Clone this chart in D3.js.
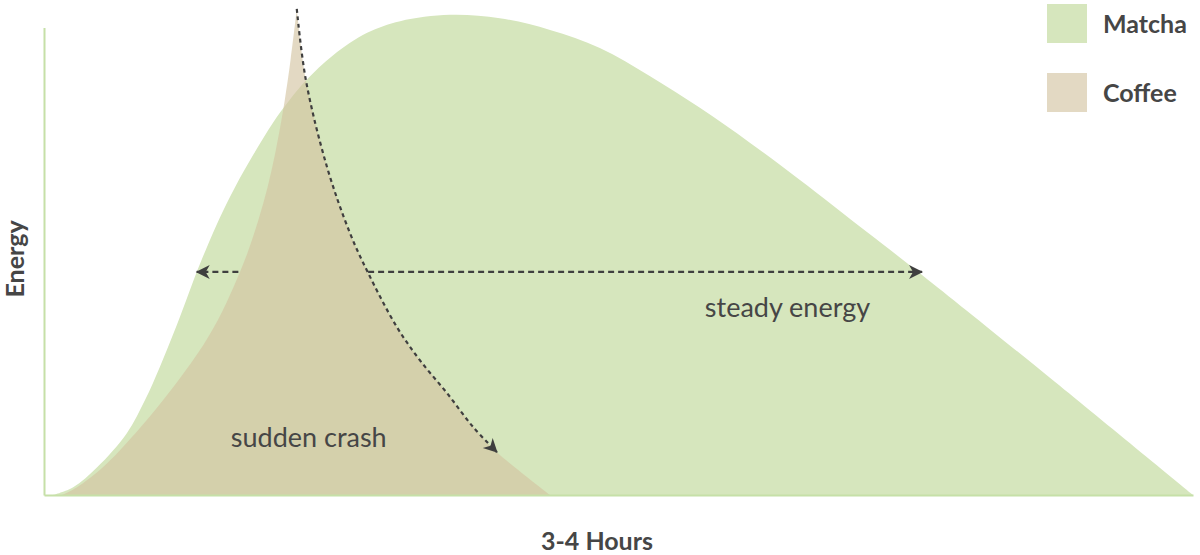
<!DOCTYPE html>
<html>
<head>
<meta charset="utf-8">
<script src="https://cdn.jsdelivr.net/npm/d3@7/dist/d3.min.js"></script>
<style>
  html, body { margin: 0; padding: 0; background: #fff; }
  svg { display: block; font-family: Lato, "Open Sans", sans-serif; }
</style>
</head>
<body>
<svg id="chart" width="1200" height="555"></svg>
<script>
// ---- Data (time in minutes, energy 0-100) ----
const matchaMinutes = [1.9, 6.1, 11.1, 17.3, 21.1, 24.2, 27.1, 29.7, 31.9, 34.2, 36.7, 39.9, 43.8, 47.8, 51.3, 54.8, 60.4, 67.5, 74.4, 84.8, 95.2, 105.7, 116.1, 126.6, 137.0, 147.5, 157.9, 171.9, 183.4, 211.2, 240];
const matchaEnergy  = [0, 1.6, 5.7, 12.7, 19.5, 26.3, 33.3, 40.0, 45.8, 51.3, 56.9, 63.2, 70.0, 76.4, 81.1, 85.2, 90.3, 94.9, 97.3, 98.6, 97.9, 95.5, 91.8, 86.0, 79.5, 72.3, 64.7, 54.0, 45.2, 23.2, 0];

const coffeeRiseMinutes = [3.8, 6.9, 12.3, 19.1, 24.9, 32.2, 36.3, 39.6, 42.5, 44.8, 46.7, 48.3, 49.6, 50.3, 51.5, 52.8];
const coffeeRiseEnergy  = [0, 1.6, 5.7, 12.7, 19.5, 29.2, 35.9, 42.7, 49.7, 56.5, 63.2, 70.2, 77.0, 81.1, 89.3, 99.8];
const coffeeFallMinutes = [52.8, 54.7, 59.1, 63.9, 67.7, 73.7, 78.5, 84.2, 89.6, 94.6, 105.7];
const coffeeFallEnergy  = [99.8, 85.2, 67.4, 53.8, 45.6, 34.5, 27.7, 20.9, 14.0, 8.8, 0];

const seriesNames = ["Matcha", "Coffee"];
const steadyLevel = 45.8;
const steadyLeft  = [40.6, 31.9];   // from, to (arrow tip)
const steadyRight = [67.7, 183.4];  // from, to (arrow tip)
const crashArrowIndex = 9;          // crash arrow ends at this fall point
const labels = { steady: "steady energy", crash: "sudden crash", xTitle: "3-4 Hours", yTitle: "Energy" };

// ---- Setup ----
const svg = d3.select("#chart");
const x = d3.scaleLinear().domain([0, 240]).range([44, 1193]);
const y = d3.scaleLinear().domain([0, 100]).range([495, 8]);
const color = d3.scaleOrdinal().domain(seriesNames).range(["#d6e6bd", "rgb(211,195,160)"]);
const textColor = "#464646";
const curve = d3.curveCatmullRom.alpha(0.5);

const zip = (a, b) => a.map((v, i) => [v, b[i]]);
const matcha = zip(matchaMinutes, matchaEnergy);
const rise = zip(coffeeRiseMinutes, coffeeRiseEnergy);
const fall = zip(coffeeFallMinutes, coffeeFallEnergy);

const area = d3.area().x(d => x(d[0])).y0(y(0)).y1(d => y(d[1])).curve(curve);
const line = d3.line().x(d => x(d[0])).y(d => y(d[1])).curve(curve);

// Markers
const defs = svg.append("defs");
defs.append("marker")
  .attr("id", "dart")
  .attr("viewBox", "-15 -8 17 16")
  .attr("refX", 0).attr("refY", 0)
  .attr("markerWidth", 17).attr("markerHeight", 16)
  .attr("markerUnits", "userSpaceOnUse")
  .attr("orient", "auto")
  .append("path")
  .attr("d", "M1,0 L-13,-7 L-9,0 L-13,7 Z")
  .attr("fill", "#3f3f3f");

// Matcha area
svg.append("path")
  .datum(matcha)
  .attr("d", area)
  .attr("fill", color("Matcha"));

// Coffee area (cusp at peak: rise and fall interpolated separately)
const coffeePath = line(rise) + line(fall).replace(/^M/, "L") + "Z";
svg.append("path")
  .attr("d", coffeePath)
  .attr("fill", color("Coffee"))
  .attr("fill-opacity", 0.63);

// Axes
const yAxisScale = d3.scaleLinear().domain([0, 96]).range([y(0), y(96)]);
const axisStyle = g => g.select(".domain").attr("stroke", "#c6e0a8").attr("stroke-width", 2);
svg.append("g").attr("transform", `translate(${x(0)},0)`)
  .call(d3.axisLeft(yAxisScale).tickValues([]).tickSizeOuter(0)).call(axisStyle);
svg.append("g").attr("transform", `translate(0,${y(0)})`)
  .call(d3.axisBottom(x).tickValues([]).tickSizeOuter(0)).call(axisStyle);

// Crash dotted curve
svg.append("path")
  .datum(fall.slice(0, crashArrowIndex + 1))
  .attr("d", line)
  .attr("fill", "none")
  .attr("stroke", "#3f3f3f")
  .attr("stroke-width", 2.2)
  .attr("stroke-dasharray", "4,3.5")
  .attr("marker-end", "url(#dart)");

// Steady arrows
[steadyLeft, steadyRight].forEach(seg => {
  svg.append("path")
    .datum(seg.map(t => [t, steadyLevel]))
    .attr("d", d3.line().x(d => x(d[0])).y(d => y(d[1])))
    .attr("fill", "none")
    .attr("stroke", "#3f3f3f")
    .attr("stroke-width", 2.2)
    .attr("stroke-dasharray", "6,4")
    .attr("marker-end", "url(#dart)");
});

// Annotation labels
svg.append("text")
  .attr("x", x(155.3)).attr("y", 317)
  .attr("text-anchor", "middle")
  .attr("font-size", 27).attr("fill", textColor)
  .text(labels.steady);
svg.append("text")
  .attr("x", x(55.3)).attr("y", 447)
  .attr("text-anchor", "middle")
  .attr("font-size", 27).attr("fill", textColor)
  .text(labels.crash);

// Axis titles
svg.append("text")
  .attr("transform", "translate(24,259) rotate(-90)")
  .attr("text-anchor", "middle")
  .attr("font-size", 25).attr("font-weight", 700).attr("fill", textColor)
  .text(labels.yTitle);
svg.append("text")
  .attr("x", 597).attr("y", 550)
  .attr("text-anchor", "middle")
  .attr("font-size", 25).attr("font-weight", 700).attr("fill", textColor)
  .text(labels.xTitle);

// Legend
const legend = svg.append("g").attr("transform", "translate(1047,4)");
seriesNames.forEach((name, i) => {
  const g = legend.append("g").attr("transform", `translate(0,${i * 69})`);
  g.append("rect").attr("width", 40).attr("height", 39)
    .attr("fill", color(name))
    .attr("fill-opacity", name === "Coffee" ? 0.63 : 1);
  g.append("text").attr("x", 56).attr("y", 29)
    .attr("font-size", 25).attr("font-weight", 700).attr("fill", textColor)
    .text(name);
});
</script>
</body>
</html>
